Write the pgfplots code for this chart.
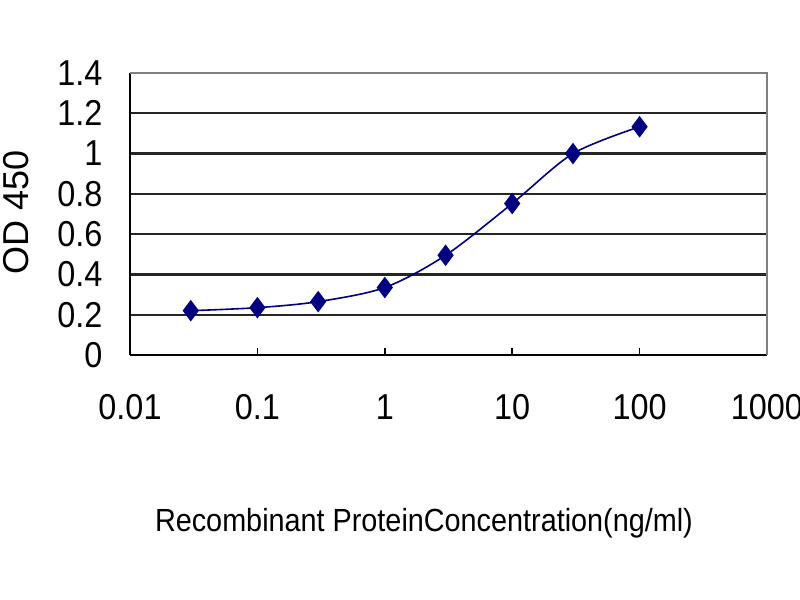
\documentclass[border=0pt]{standalone}
\usepackage{fontspec}
\setmainfont{Liberation Sans}[FakeStretch=0.9]
\newfontfamily\ylabfont{Liberation Sans}
\usepackage{pgfplots}
\pgfplotsset{compat=1.18}
\definecolor{curve}{RGB}{0,0,128}

\begin{document}
\begin{tikzpicture}
\fill[white] (0,0) rectangle (800bp,-600bp);
\useasboundingbox (0,0) rectangle (800bp,-600bp);
\begin{axis}[
  at={(130bp,-355bp)}, anchor=south west,
  scale only axis, width=637bp, height=282bp,
  xmode=log, xmin=0.01, xmax=1000, ymin=0, ymax=1.4,
  xtick={0.01,0.1,1,10,100,1000},
  xticklabels={0.01,0.1,1,10,100,1000},
  ytick={0,0.2,0.4,0.6,0.8,1,1.2,1.4},
  yticklabels={0,0.2,0.4,0.6,0.8,1,1.2,1.4},
  minor xtick={}, log basis x=10,
  axis x line*=bottom, axis y line*=left,
  axis line style={black, line width=2bp},
  x axis line style={-}, y axis line style={-},
  xtick pos=bottom, ytick pos=left,
  xtick align=inside, ytick style={draw=none},
  major tick length=7bp,
  x tick style={black, line width=1.5bp},
  ymajorgrids, xmajorgrids=false,
  major grid style={black!85, line width=2.3bp},
  tick label style={font=\fontsize{36bp}{40bp}\selectfont},
  xticklabel style={anchor=north, yshift=-36bp},
  yticklabel style={anchor=east, xshift=-24bp},
  xlabel={Recombinant ProteinConcentration(ng/ml)},
  xlabel style={font=\fontsize{32bp}{36bp}\selectfont, at={(axis description cs:0.4615,-0.596)}, anchor=center},
  ylabel={\ylabfont OD 450},
  ylabel style={font=\fontsize{36bp}{40bp}\selectfont, at={(axis description cs:-0.179,0.504)}, anchor=center},
  clip=false,
]
\draw[black!50, line width=1.5bp] (rel axis cs:0,1) -- (rel axis cs:1,1) -- (rel axis cs:1,0);
\addplot[curve, line width=1.6bp, smooth, mark=diamond*, mark size=9.5bp, mark options={fill=curve, draw=curve}]
  coordinates {(0.03,0.22) (0.1,0.235) (0.3,0.265) (1,0.335) (3,0.495) (10,0.752) (30,1.0) (100,1.133)};
\end{axis}
\end{tikzpicture}
\end{document}
